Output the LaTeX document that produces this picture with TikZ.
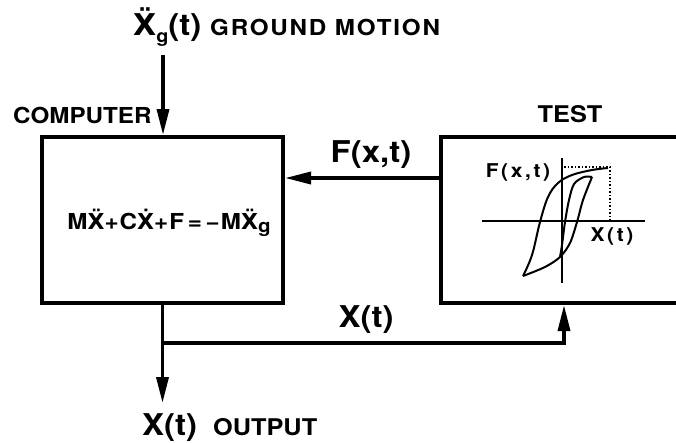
\documentclass[tikz,border=0pt]{standalone}
\usepackage{fontspec}
\usepackage{graphicx}
\setmainfont{TeX Gyre Heros}[FakeStretch=1.1]
\newfontfamily\capsfont{TeX Gyre Heros}[FakeStretch=1.1,LetterSpace=8]
\newfontfamily\eqfont{TeX Gyre Heros}[FakeStretch=1.1,LetterSpace=5]
\newfontfamily\plotfont{TeX Gyre Heros}[FakeStretch=1.1,LetterSpace=14]
\newfontfamily\accfont{DejaVu Sans}
\usetikzlibrary{arrows.meta, positioning}
\newcommand{\ddX}{{\accfont\bfseries Ẍ}}
\newcommand{\dX}{{\accfont\bfseries Ẋ}}
\newcommand{\lowg}[2]{\raisebox{#1}{\scalebox{#2}{g}}}
\tikzset{
    blockbox/.style={draw, line width=4pt, minimum height=166pt, inner sep=0pt},
    arrow/.style={-{Triangle[length=26pt,width=12pt]}, line width=3.5pt},
    plotline/.style={line width=2pt},
    biglabel/.style={font=\fontsize{30}{30}\selectfont\bfseries, inner sep=0pt},
    capslabel/.style={font=\fontsize{22}{22}\selectfont\bfseries, inner sep=0pt},
    plotlabel/.style={font=\plotfont\fontsize{19}{19}\selectfont\bfseries, inner sep=0pt}
}
\begin{document}
\begin{tikzpicture}[x=1pt, y=-1pt]
        \useasboundingbox (0,0) rectangle (676,442);
        \clip (0,0) rectangle (676,442);
        \node [blockbox, minimum width=241pt] (computer) at (162.5,220) {};
        \node [blockbox, minimum width=260pt, right=154pt of computer] (test) {};
        \node [font=\eqfont\fontsize{22}{22}\selectfont\bfseries, inner sep=0pt, anchor=base] (eq) at (169,229)
            {M\ddX+C\dX+F\,=\,−M\ddX\lowg{-0.18em}{0.85}};
        \node [biglabel, anchor=base west] (xg) at (133,35) {\ddX\lowg{-0.25em}{0.6}(t)};
        \node [capslabel, font=\capsfont\fontsize{22}{22}\selectfont\bfseries, anchor=base west] (ground) at (210,35) {GROUND MOTION};
        \node [capslabel, anchor=base west] (complab) at (13,123) {COMPUTER};
        \node [capslabel, font=\fontsize{23}{23}\selectfont\bfseries, anchor=base] (testlab) at (570,122) {TEST};
        \node [biglabel, anchor=base] (flab) at (371,162) {F(x,t)};
        \node [biglabel, anchor=base] (xlab) at (366,327) {X(t)};
        \node [biglabel, anchor=base west] (xout) at (142,435) {X(t)};
        \node [capslabel, font=\fontsize{23}{23}\selectfont\bfseries, anchor=base west] (outlab) at (213,435) {OUTPUT};
        \coordinate (gin) at (163,55);
        \coordinate (fy) at (0,178);
        \coordinate (fbturn) at (564,343);
        \coordinate (outend) at (163,403);
        \draw [arrow] (gin) -- (gin |- computer.north);
        \draw [arrow] (test.west |- fy) -- (computer.east |- fy);
        \draw [arrow] (computer.south) -- (computer.south |- outend);
        \draw [arrow] (computer.south |- fbturn) -| (test.south -| fbturn);
        \draw [plotline] (482,221) -- (645,221);
        \draw [plotline] (562,158) -- (562,283);
        \draw [dotted, line width=1.5pt] (564,167) -- (610,167) -- (610,221);
        \draw [plotline] plot [smooth, tension=0.6] coordinates {(523,276) (532,255) (540,222) (548,197) (558,183) (572,175) (592,170) (608,168)};
        \draw [plotline] plot [smooth] coordinates {(523,276) (545,267) (560,257) (570,243) (577,222) (583,200) (592,177)};
        \draw [plotline] plot [smooth] coordinates {(592,177) (584,177) (574,184) (569,200) (565,222) (562,245) (560,257)};
        \node [plotlabel] (fplot) at (518,172) {F(x,t)};
        \node [plotlabel] (xplot) at (612,236) {X(t)};
    \end{tikzpicture}
\end{document}
